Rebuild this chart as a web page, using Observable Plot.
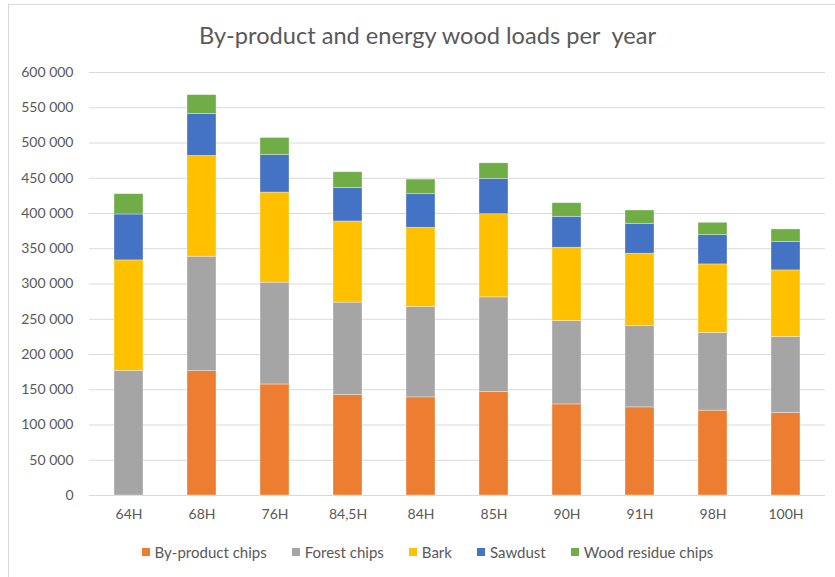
<!DOCTYPE html>
<html>
<head>
<meta charset="utf-8">
<script src="https://cdn.jsdelivr.net/npm/d3@7"></script>
<script src="https://cdn.jsdelivr.net/npm/@observablehq/plot@0.6"></script>
<style>
  html, body { margin: 0; padding: 0; background: #fff; }
  #wrap { position: relative; width: 835px; height: 577px; overflow: hidden; font-family: Lato, sans-serif; color: #595959; }
  #frame { position: absolute; left: 8px; top: 4px; width: 840px; height: 590px; border: 1px solid #d9d9d9; box-sizing: border-box; }
  #title { position: absolute; left: 10px; width: 835px; top: 20px; text-align: center; font-size: 23.6px; line-height: 30px; }
  #legend { position: absolute; left: 10px; width: 835px; top: 542px; display: flex; justify-content: center; font-size: 15px; line-height: 20px; }
  .item { display: flex; align-items: center; margin: 0 12.5px; }
  .sw { width: 8.5px; height: 8.5px; margin-right: 4.5px; }
  #chart { position: absolute; left: 0; top: 0; }
</style>
</head>
<body>
<div id="wrap">
  <div id="frame"></div>
  <div id="chart"></div>
  <div id="title">By-product and energy wood loads per&nbsp; year</div>
  <div id="legend"></div>
</div>
<script>
const categories = ["64H","68H","76H","84,5H","84H","85H","90H","91H","98H","100H"];
const seriesNames = ["By-product chips","Forest chips","Bark","Sawdust","Wood residue chips"];
const seriesColors = ["#ED7D31","#A5A5A5","#FFC000","#4472C4","#70AD47"];
const byproductChips = [0, 176400, 157500, 142400, 139200, 146700, 129200, 125000, 120300, 117000];
const forestChips    = [176900, 162300, 144400, 131200, 128200, 134400, 118400, 115600, 110400, 108000];
const bark           = [156600, 142900, 127800, 115100, 112300, 117900, 103800, 102300, 97100, 94300];
const sawdust        = [65100, 59400, 53300, 47600, 47700, 50100, 43900, 42500, 41500, 40100];
const woodResidue    = [28800, 26900, 24100, 22200, 20700, 22100, 19300, 18900, 17500, 18000];
const yTicks = [0,50000,100000,150000,200000,250000,300000,350000,400000,450000,500000,550000,600000];

const seriesValues = [byproductChips, forestChips, bark, sawdust, woodResidue];
const rows = [];
categories.forEach((c, i) => {
  seriesNames.forEach((s, j) => rows.push({category: c, series: s, value: seriesValues[j][i]}));
});

const fmt = d3.formatLocale({decimal: ",", thousands: " ", grouping: [3], currency: ["", ""]}).format(",");

const chart = Plot.plot({
  width: 835,
  height: 577,
  marginLeft: 89,
  marginRight: 10,
  marginTop: 72,
  marginBottom: 82,
  style: {fontFamily: "Lato, sans-serif", fontSize: "14px", color: "#595959", background: "transparent"},
  x: {domain: categories, paddingInner: 0.6, paddingOuter: 0.3, label: null, tickSize: 0, tickPadding: 14},
  y: {domain: [0, 600000], ticks: yTicks, label: null, tickSize: 0, tickPadding: 16, tickFormat: fmt},
  color: {domain: seriesNames, range: seriesColors},
  marks: [
    Plot.gridY(yTicks, {stroke: "#d9d9d9", strokeOpacity: 1, strokeWidth: 1}),
    Plot.barY(rows, {x: "category", y: "value", fill: "series", stroke: "#ffffff", strokeOpacity: 0.45, strokeWidth: 0.75}),
    Plot.axisX({tickSize: 0, tickPadding: 14, fontSize: 14}),
    Plot.axisY({ticks: yTicks, tickSize: 0, tickPadding: 16, tickFormat: fmt, fontSize: 14})
  ]
});
document.getElementById("chart").appendChild(chart);

const legend = document.getElementById("legend");
seriesNames.forEach((s, j) => {
  const it = document.createElement("div");
  it.className = "item";
  const sw = document.createElement("div");
  sw.className = "sw";
  sw.style.background = seriesColors[j];
  const t = document.createElement("span");
  t.textContent = s;
  it.appendChild(sw); it.appendChild(t);
  legend.appendChild(it);
});
</script>
</body>
</html>
